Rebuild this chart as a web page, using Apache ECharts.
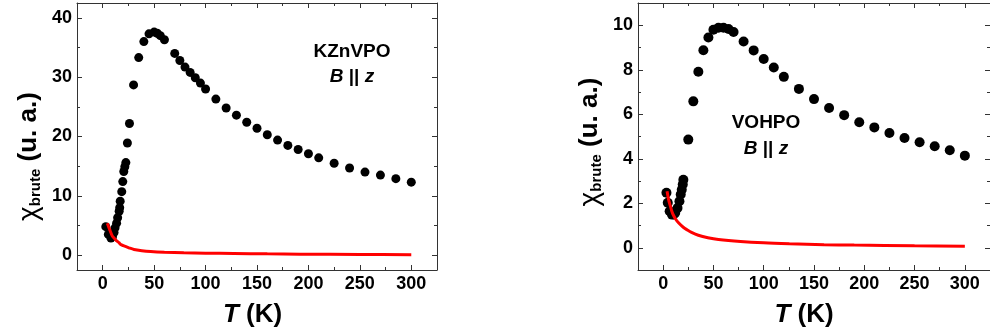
<!DOCTYPE html>
<html><head><meta charset="utf-8">
<script src="https://cdn.jsdelivr.net/npm/echarts@6/dist/echarts.min.js"></script>
<style>html,body{margin:0;padding:0;background:#fff}#c{width:990px;height:336px}</style>
</head><body><div id="c"></div>
<script>
// ---- data ----
const xTickLabels = [0, 50, 100, 150, 200, 250, 300];
const yTickLabelsKZn = [0, 10, 20, 30, 40];
const yTickLabelsVOH = [0, 2, 4, 6, 8, 10];

const kznT = [3, 5.5, 8, 9.5, 11, 12, 13.5, 14.5, 16, 16.5, 17, 18.5, 19.5, 20.5, 21.5, 22.5, 24, 26, 30, 35, 40, 45, 50, 53, 56, 60, 70, 75, 80, 85, 90, 95, 100, 110, 120, 130, 140, 150, 160, 170, 180, 190, 200, 210, 225, 240, 255, 270, 285, 300];
const kznChi = [4.8, 3.5, 2.9, 3.1, 3.8, 4.6, 5.4, 6.3, 7.4, 8.0, 9.1, 10.7, 12.4, 14.1, 14.9, 15.6, 18.9, 22.2, 28.7, 33.3, 36.0, 37.3, 37.6, 37.4, 37.0, 36.3, 34.0, 32.8, 31.7, 30.8, 29.9, 29.0, 28.0, 26.3, 24.8, 23.6, 22.4, 21.4, 20.3, 19.4, 18.5, 17.8, 17.1, 16.4, 15.5, 14.7, 14.0, 13.5, 12.9, 12.3];
const kznFitT = [4.5, 6.8, 9.4, 11, 13, 15.8, 17.5, 20, 25.5, 30.4, 38, 46.6, 60, 78.9, 100, 127.4, 160, 192, 250, 300];
const kznFit = [5.4, 4.3, 3.2, 2.9, 2.5, 2.1, 1.8, 1.6, 1.24, 0.96, 0.76, 0.62, 0.5, 0.40, 0.34, 0.29, 0.22, 0.17, 0.11, 0.07];

const vohT = [3.3, 4.6, 6.5, 8.8, 10.5, 12, 14.3, 16.2, 17.5, 18.5, 19.5, 20.1, 25, 30, 35, 40, 45, 50, 55, 60, 65, 70, 80, 90, 100, 110, 120, 135, 150, 165, 180, 195, 210, 225, 240, 255, 270, 285, 300];
const vohChi = [2.47, 2.02, 1.64, 1.49, 1.50, 1.57, 1.79, 2.09, 2.39, 2.61, 2.84, 3.06, 4.86, 6.58, 7.91, 8.88, 9.45, 9.80, 9.89, 9.89, 9.83, 9.70, 9.27, 8.87, 8.48, 8.10, 7.68, 7.14, 6.68, 6.28, 5.96, 5.64, 5.41, 5.16, 4.93, 4.74, 4.56, 4.38, 4.14];
const vohFitT = [3.9, 5.5, 7.2, 8.8, 10.4, 12.5, 15.3, 20, 24, 28.2, 35, 44.5, 55, 76.9, 100, 125.5, 160, 190, 250, 300];
const vohFit = [2.54, 2.15, 1.87, 1.62, 1.45, 1.28, 1.12, 0.92, 0.8, 0.69, 0.56, 0.45, 0.37, 0.28, 0.22, 0.18, 0.14, 0.12, 0.09, 0.07];

// ---- chart ----
const FONT = '"Liberation Sans", Arial, sans-serif';
const zip = (a, b) => a.map((v, i) => [v, b[i]]);
const lineCol = '#333';

function axis(opts) {
  const base = {
    type: 'value',
    gridIndex: opts.grid,
    position: opts.position,
    min: opts.min, max: opts.max, splitNumber: opts.split,
    axisLine: { show: true, onZero: false, lineStyle: { color: lineCol, width: 1 } },
    axisTick: { show: true, inside: true, length: 5, lineStyle: { color: lineCol } },
    minorTick: { show: true, splitNumber: 2, length: 3, lineStyle: { color: lineCol } },
    splitLine: { show: false },
    axisLabel: { show: false }
  };
  if (opts.labels) {
    base.axisLabel = {
      show: true, margin: 5, customValues: opts.labels,
      color: '#000', fontFamily: FONT, fontWeight: 'bold', fontSize: 18
    };
  }
  if (opts.name) {
    base.name = opts.name;
    base.nameLocation = 'middle';
    base.nameGap = opts.nameGap;
    if (opts.nameRotate !== undefined) base.nameRotate = opts.nameRotate;
    base.nameTextStyle = {
      color: '#000', fontFamily: FONT, fontWeight: 'bold', fontSize: 26,
      padding: opts.namePad || 0,
      rich: {
        i: { fontStyle: 'italic', fontWeight: 'bold', fontSize: 26, fontFamily: FONT, color: '#000' },
        b: { fontWeight: 'bold', fontSize: 26, fontFamily: FONT, color: '#000' },
        chi: { fontWeight: 'normal', fontSize: 28, fontFamily: FONT, color: '#000' },
        sub: { fontWeight: 'bold', fontSize: 15, fontFamily: FONT, color: '#000', verticalAlign: 'bottom', lineHeight: 14, padding: [8, 0, 0, 0] }
      }
    };
  }
  return base;
}

const xTitle = '{i|T}{b| (K)}';
const yTitle = '{chi|χ}{sub|brute}{b| (u. a.)}';

const dotStyle = { color: '#000', opacity: 1 };
const fitStyle = { color: '#ff0000', width: 3, opacity: 1 };

const option = {
  animation: false,
  backgroundColor: '#fff',
  grid: [
    { left: 77, top: 3, width: 360, height: 267, show: false },
    { left: 638, top: 3, width: 360, height: 267, show: false }
  ],
  xAxis: [
    axis({ grid: 0, position: 'bottom', min: -25, max: 325, split: 7, labels: xTickLabels, name: xTitle, nameGap: 32, namePad: [0, 9, 0, 0] }),
    axis({ grid: 0, position: 'top', min: -25, max: 325, split: 7 }),
    axis({ grid: 1, position: 'bottom', min: -25, max: 325, split: 7, labels: xTickLabels, name: xTitle, nameGap: 32, namePad: [0, 20, 0, 0] }),
    axis({ grid: 1, position: 'top', min: -25, max: 325, split: 7 })
  ],
  yAxis: [
    axis({ grid: 0, position: 'left', min: -2.5, max: 42.5, split: 5, labels: yTickLabelsKZn, name: yTitle, nameGap: 34, nameRotate: 90, namePad: [0, 40, 0, 0] }),
    axis({ grid: 0, position: 'right', min: -2.5, max: 42.5, split: 5 }),
    axis({ grid: 1, position: 'left', min: -1, max: 11, split: 6, labels: yTickLabelsVOH, name: yTitle, nameGap: 34, nameRotate: 90, namePad: [0, 11, 0, 0] }),
    axis({ grid: 1, position: 'right', min: -1, max: 11, split: 6 })
  ],
  series: [
    { type: 'scatter', xAxisIndex: 0, yAxisIndex: 0, data: zip(kznT, kznChi), symbol: 'circle', symbolSize: 9, itemStyle: dotStyle, z: 2 },
    { type: 'line', xAxisIndex: 0, yAxisIndex: 0, data: zip(kznFitT, kznFit), showSymbol: false, smooth: 0.3, lineStyle: fitStyle, itemStyle: { color: '#ff0000' }, z: 3 },
    { type: 'scatter', xAxisIndex: 2, yAxisIndex: 2, data: zip(vohT, vohChi), symbol: 'circle', symbolSize: 10, itemStyle: dotStyle, z: 2 },
    { type: 'line', xAxisIndex: 2, yAxisIndex: 2, data: zip(vohFitT, vohFit), showSymbol: false, smooth: 0.3, lineStyle: fitStyle, itemStyle: { color: '#ff0000' }, z: 3 }
  ],
  graphic: [
    { type: 'text', x: 352, y: 52, style: { text: 'KZnVPO', font: 'bold 19px ' + FONT, fill: '#000', align: 'center', verticalAlign: 'middle' } },
    { type: 'text', x: 352, y: 77, style: { text: '{i|B} || {i|z}', font: 'bold 19px ' + FONT, fill: '#000', align: 'center', verticalAlign: 'middle',
      rich: { i: { fontStyle: 'italic', fontWeight: 'bold', fontSize: 19, fontFamily: FONT, fill: '#000' } } } },
    { type: 'text', x: 766, y: 123, style: { text: 'VOHPO', font: 'bold 19px ' + FONT, fill: '#000', align: 'center', verticalAlign: 'middle' } },
    { type: 'text', x: 766, y: 149, style: { text: '{i|B} || {i|z}', font: 'bold 19px ' + FONT, fill: '#000', align: 'center', verticalAlign: 'middle',
      rich: { i: { fontStyle: 'italic', fontWeight: 'bold', fontSize: 19, fontFamily: FONT, fill: '#000' } } } }
  ]
};

const chart = echarts.init(document.getElementById('c'), null, { renderer: 'canvas' });
chart.setOption(option);
</script>
</body></html>
